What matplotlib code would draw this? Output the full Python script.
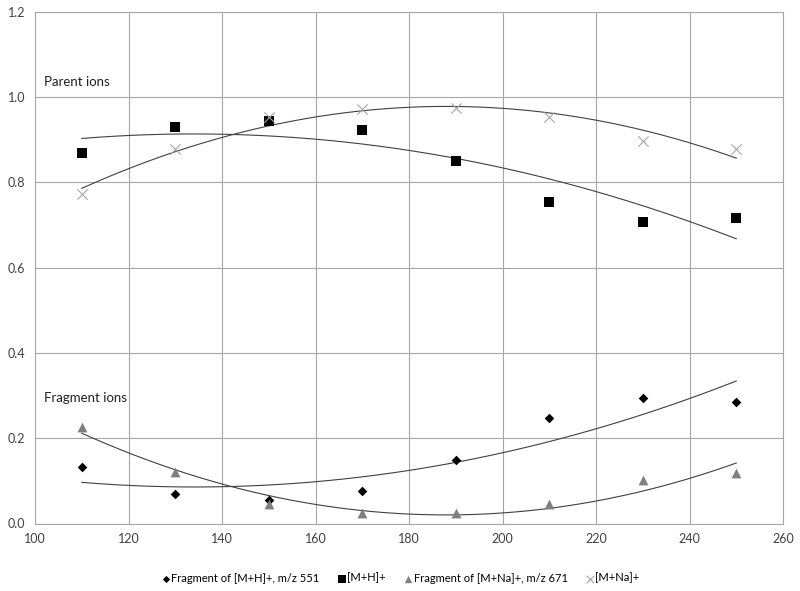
import numpy as np
import matplotlib
matplotlib.use("Agg")
from matplotlib import pyplot as plt

plt.rcParams['font.family'] = ['Lato', 'DejaVu Sans']

# temperature steps
temps = [110, 130, 150, 170, 190, 210, 230, 250]

# relative intensities
frag_mh  = [0.132, 0.068, 0.055, 0.076, 0.150, 0.247, 0.294, 0.285]
mh       = [0.868, 0.930, 0.944, 0.923, 0.849, 0.754, 0.707, 0.716]
frag_mna = [0.226, 0.120, 0.046, 0.024, 0.024, 0.046, 0.102, 0.119]
mna      = [0.772, 0.877, 0.952, 0.973, 0.975, 0.952, 0.897, 0.879]

labels = ['Fragment of [M+H]+, m/z 551', '[M+H]+',
          'Fragment of [M+Na]+, m/z 671', '[M+Na]+']

fig = plt.figure(figsize=(8.0, 5.91), dpi=100)
ax = fig.add_axes([35/800, 1 - 523.5/591, 748/800, 511.8/591])

styles = [
    dict(marker='D', color='black', s=24),
    dict(marker='s', color='black', s=48),
    dict(marker='^', color='#7f7f7f', s=50),
    dict(marker='x', color='#a6a6a6', s=55),
]

xs = np.array(temps, dtype=float)
xfit = np.linspace(110, 250, 200)
for ys, st, lab in zip([frag_mh, mh, frag_mna, mna], styles, labels):
    ax.scatter(xs, ys, marker=st['marker'], color=st['color'], s=st['s'],
               linewidths=0.8 if st['marker'] == 'x' else 0, label=lab, zorder=3)
    # 2nd order polynomial trendline (like excel)
    p = np.polyfit(xs, ys, 2)
    ax.plot(xfit, np.polyval(p, xfit), color='#404040', lw=0.8, zorder=2)

ax.set_xlim(100, 260)
ax.set_ylim(0, 1.2)
ax.set_xticks(np.arange(100, 261, 20))
ax.set_yticks(np.arange(0, 1.21, 0.2))
ax.yaxis.set_major_formatter(matplotlib.ticker.FormatStrFormatter('%.1f'))
ax.grid(True, color='#a6a6a6', lw=0.8)
ax.set_axisbelow(True)
for sp in ax.spines.values():
    sp.set_color('#a6a6a6')
    sp.set_linewidth(0.8)
ax.tick_params(length=0, labelsize=9, labelcolor='#404040', pad=7)

ax.text(102, 1.035, 'Parent ions', fontsize=9.5, color='#202020', va='center')
ax.text(102, 0.294, 'Fragment ions', fontsize=9.5, color='#202020', va='center')

fig.legend(loc='center', bbox_to_anchor=(0.5, 1 - 578/591), ncol=4, frameon=False,
           fontsize=8, handletextpad=0.0, columnspacing=1.5, markerscale=0.75,
           handlelength=1.0)

fig.savefig('out.png', dpi=100)
